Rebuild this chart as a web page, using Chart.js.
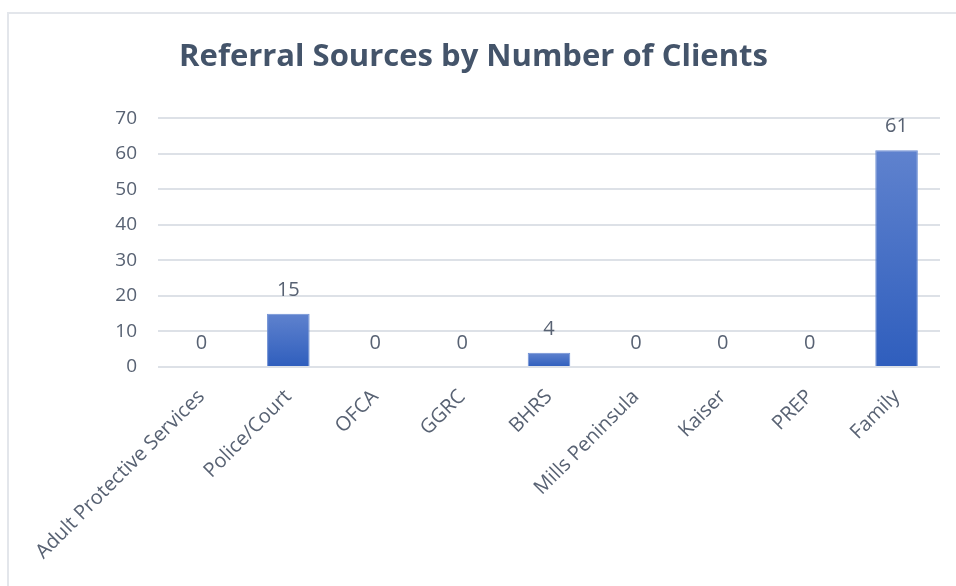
<!DOCTYPE html>
<html>
<head>
<meta charset="utf-8">
<title>Referral Sources</title>
<script src="https://cdn.jsdelivr.net/npm/chart.js@4"></script>
<style>
  html, body { margin: 0; padding: 0; background: #fff; overflow: hidden; }
  body { width: 956px; height: 586px; position: relative; }
  #frame {
    position: absolute; left: 7px; top: 12px; width: 980px; height: 600px;
    border-top: 2px solid #E3E6EB; border-left: 2px solid #E3E6EB;
  }
  #wrap { position: absolute; left: 7px; top: 14px; width: 964px; height: 572px; }
</style>
</head>
<body>
<div id="frame"></div>
<div id="wrap"><canvas id="grafico"></canvas></div>
<script>
const fontes = ['Adult Protective Services', 'Police/Court', 'OFCA', 'GGRC', 'BHRS',
  'Mills Peninsula', 'Kaiser', 'PREP', 'Family'];
const clientes = [0, 15, 0, 0, 4, 0, 0, 0, 61];
const ticksY = [0, 10, 20, 30, 40, 50, 60, 70];

const corTexto = '#586273';

// gradiente de cada barra: mais claro em cima, mais escuro embaixo
function gradienteBarra(context) {
  const chart = context.chart;
  const y = chart.scales.y;
  if (!chart.chartArea || !y) return '#4472C4';
  const v = clientes[context.dataIndex] || 0;
  const topo = y.getPixelForValue(v);
  const base = y.getPixelForValue(0);
  if (base - topo < 1) return '#4472C4';
  const g = chart.ctx.createLinearGradient(0, topo, 0, base);
  g.addColorStop(0, '#5F82CE');
  g.addColorStop(1, '#2F5EBD');
  return g;
}

// rotulos de valor acima das barras
const rotulos = {
  id: 'rotulos',
  afterDatasetsDraw(chart) {
    const ctx = chart.ctx;
    const meta = chart.getDatasetMeta(0);
    ctx.save();
    ctx.font = '20px "Open Sans"';
    ctx.fillStyle = corTexto;
    ctx.textAlign = 'center';
    ctx.textBaseline = 'alphabetic';
    meta.data.forEach((bar, i) => {
      ctx.fillText(String(clientes[i]), bar.x, bar.y - 18);
    });
    ctx.restore();
  }
};

const ctx = document.getElementById('grafico').getContext('2d');
new Chart(ctx, {
  type: 'bar',
  data: {
    labels: fontes,
    datasets: [{
      data: clientes,
      backgroundColor: gradienteBarra,
      borderColor: '#6E8FD3',
      borderWidth: 1,
      categoryPercentage: 1,
      barPercentage: 0.49
    }]
  },
  plugins: [rotulos],
  options: {
    responsive: true,
    maintainAspectRatio: false,
    animation: false,
    layout: { padding: { left: 0, right: 31, top: 0, bottom: 0 } },
    plugins: {
      legend: { display: false },
      tooltip: { enabled: false },
      title: {
        display: true,
        text: 'Referral Sources by Number of Clients',
        color: '#44546A',
        font: { family: '"Open Sans"', size: 31, weight: 'bold', lineHeight: 1.2 },
        padding: { top: 25, bottom: 42 }
      }
    },
    scales: {
      x: {
        grid: { display: false },
        border: { display: false },
        ticks: {
          color: corTexto,
          font: { family: '"Open Sans"', size: 20 },
          maxRotation: 45,
          minRotation: 45,
          padding: 10,
          autoSkip: false
        },
        afterFit(scale) { scale.height = 219; }
      },
      y: {
        min: 0,
        max: 70,
        afterBuildTicks(scale) { scale.ticks = ticksY.map(v => ({ value: v })); },
        grid: { color: '#DDE1E7', lineWidth: 2, drawTicks: false },
        border: { display: false },
        ticks: {
          color: corTexto,
          font: { family: '"Open Sans"', size: 19 },
          padding: 21
        },
        afterFit(scale) { scale.width = 151; }
      }
    }
  }
});
</script>
</body>
</html>
